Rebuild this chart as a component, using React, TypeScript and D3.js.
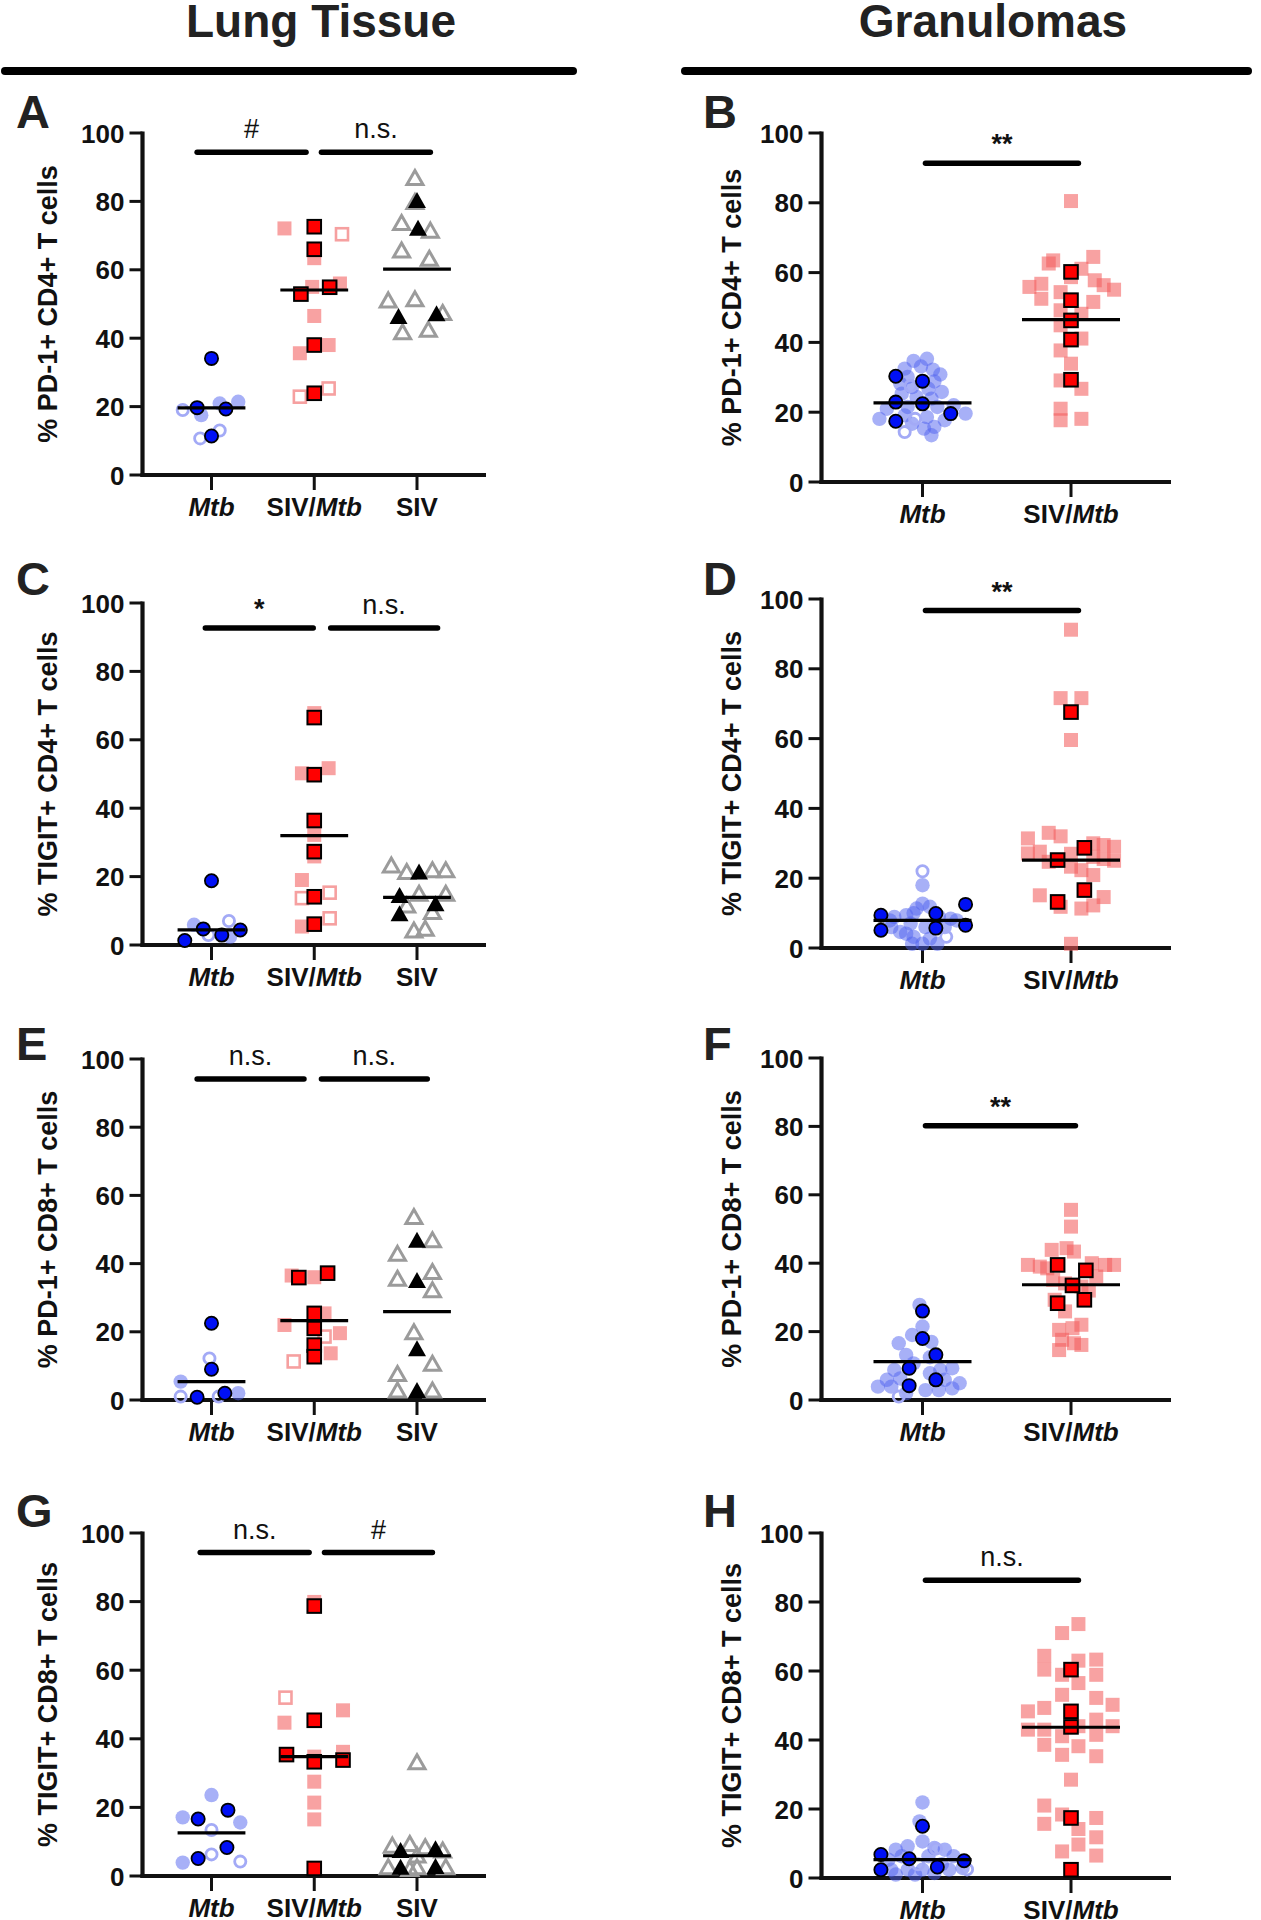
import React from "react";
import * as d3 from "d3";

type Pt = [number, number]; // [value %, jitter in % of category step]

const LUNG_CATS = ["Mtb", "SIV/Mtb", "SIV"];
const GRAN_CATS = ["Mtb", "SIV/Mtb"];
const Y_TICKS = [0, 20, 40, 60, 80, 100];
const HEADERS = ["Lung Tissue", "Granulomas"];

// ---------- Panel A : PD-1+ CD4+ lung ----------
const A_mtbDark: Pt[] = [[34.1, 0], [19.7, -14], [19.3, 14], [11.4, 0]];
const A_mtbLight: Pt[] = [[21.4, 26], [17.5, -10], [20.9, 8]];
const A_mtbOpen: Pt[] = [[19, -28], [13, 8], [10.7, -11]];
const A_cmDark: Pt[] = [[72.6, 0], [66, 0], [52.9, -13], [54.9, 15], [38, 0], [23.9, 0]];
const A_cmPink: Pt[] = [[72.1, -29], [63.4, 0], [56, 25], [55, -2], [46.5, 0], [38, 14], [35.6, -14]];
const A_cmOpen: Pt[] = [[70.4, 27], [25.3, 14], [22.9, -14]];
const A_sivBlack: Pt[] = [[80.4, 0], [72.3, 1], [46.5, -18], [47.3, 19]];
const A_sivGray: Pt[] = [[87, -2], [80, -2], [73.8, -15], [71.6, 13], [65.8, -15], [63.4, 12], [51.2, -28], [51.5, -2], [47.5, 25], [41.9, -14], [42.6, 11]];
const A_means = [19.6, 54.1, 60.2];

// ---------- Panel B : PD-1+ CD4+ granulomas ----------
const B_mtbDark: Pt[] = [[30.3, -18], [28.9, 0], [22.9, -18], [22.4, 0], [19.6, 19], [17.4, -18]];
const B_mtbLight: Pt[] = [[35.3, 3], [34.7, -6], [32.5, -12], [33.1, -1], [32.2, 7], [30.8, 12], [30.1, -10], [28.8, 8], [28.2, -15], [27.2, -7], [26.7, 4], [25.8, 13], [25.3, -14], [24.4, -4], [23.9, 6], [21, -24], [21.5, -10], [21.5, 10], [22, 21], [19.6, 29], [18.1, -29], [19.1, -12], [18.6, 3], [17.7, 15], [16.7, -7], [15.8, 8], [15.3, 1], [13.4, 6]];
const B_mtbOpen: Pt[] = [[14.3, -12], [18.1, -5], [27.5, -8]];
const B_cmDark: Pt[] = [[60.2, 0], [52.1, 0], [46.3, 0], [40.8, 0], [29.3, 0]];
const B_cmPink: Pt[] = [[80.5, 0], [64.5, 15], [63.5, -12], [61.1, 7], [55.9, -28], [56.8, -20], [54.4, -7], [57.8, 16], [56.4, 22], [55.1, 29], [52.5, -20], [51.6, 15], [49.2, -7], [48.2, 7], [44.9, -7], [41.1, 7], [37.7, -7], [33.9, 0], [26.7, 7], [29.1, -7], [21, -7], [17.7, -7], [18.1, 7], [58.7, 0], [62.6, -15]];
const B_means = [22.7, 46.5];

// ---------- Panel C : TIGIT+ CD4+ lung ----------
const C_mtbDark: Pt[] = [[18.8, 0], [1.3, -26], [4.7, -8], [2.9, 10], [4.4, 28]];
const C_mtbLight: Pt[] = [[5.9, -17], [2.4, 18]];
const C_mtbOpen: Pt[] = [[7, 17], [2.9, -3]];
const C_cmDark: Pt[] = [[66.5, 0], [49.8, 0], [36.4, 0], [27.3, 0], [14.1, 0], [6.1, 0]];
const C_cmPink: Pt[] = [[67.8, 0], [50.2, -12], [51.7, 14], [32.2, 0], [25.9, 0], [19, -12], [5.4, -12]];
const C_cmOpen: Pt[] = [[13.7, -12], [15.3, 15], [7.8, 15]];
const C_sivBlack: Pt[] = [[21.5, 2], [14.6, -17], [12.2, 18], [9.3, -17]];
const C_sivGray: Pt[] = [[23.4, -25], [21.5, -10], [22, 15], [22, 28], [15.1, 2], [15.1, 28], [11.7, -10], [9.8, 15], [4.4, -3], [4.9, 8]];
const C_means = [4.4, 32, 13.9];

// ---------- Panel D : TIGIT+ CD4+ granulomas ----------
const D_mtbDark: Pt[] = [[9.4, -28], [5.1, -28], [9.9, 9], [5.7, 9], [12.5, 29], [6.5, 29]];
const D_mtbLight: Pt[] = [[18, 0], [12.7, 0], [11.3, -4], [11.8, 5], [9.4, -11], [8.9, -19], [8.4, 19], [6, -21], [4.6, -15], [7, -8], [6, 2], [6, 15], [3.2, -6], [2.7, 5], [1.2, 0], [1.2, -7], [1.2, 10], [7.9, 23], [7.9, -22], [4.1, -11], [10, -6], [9, 11]];
const D_mtbOpen: Pt[] = [[22, 0], [3.2, 16]];
const D_cmDark: Pt[] = [[67.6, 0], [28.7, 9], [25.2, -9], [16.6, 9], [13.2, -9]];
const D_cmPink: Pt[] = [[91.2, 0], [71.6, -7], [71.6, 7], [59.6, 0], [31.4, -29], [33, -15], [32, -7], [30, 15], [29.5, 22], [29, 29], [27.6, -21], [27.1, -29], [26.1, 15], [25.5, 22], [25, 29], [23.3, 0], [24.7, -15], [22.3, 7], [20.9, 15], [15.1, -21], [11.8, -7], [11.3, 7], [12.2, 15], [14.6, 22], [1.2, 0], [27, 0]];
const D_means = [7.9, 25.2];

// ---------- Panel E : PD-1+ CD8+ lung ----------
const E_mtbDark: Pt[] = [[22.5, 0], [9, 0], [0.8, -14], [2, 13]];
const E_mtbLight: Pt[] = [[5.4, -30], [2, 26]];
const E_mtbOpen: Pt[] = [[12.2, -2], [1, -30], [1, 7]];
const E_cmDark: Pt[] = [[35.9, -15], [37.2, 13], [25.4, 0], [21, 0], [16.1, 0], [12.7, 0]];
const E_cmPink: Pt[] = [[36, 0], [22, -29], [25.4, 10], [19.6, 25], [13.7, 16], [36.5, -22]];
const E_cmOpen: Pt[] = [[11.3, -20], [18.6, 10]];
const E_sivBlack: Pt[] = [[47, 0], [35.2, 0], [15.2, 0], [2.9, 0]];
const E_sivGray: Pt[] = [[53.8, -3], [47, 15], [43, -19], [35.7, -19], [37.7, 15], [32.3, 15], [20, -3], [10.8, 15], [7.8, -19], [2.9, -19], [2.9, 15]];
const E_means = [5.4, 23.3, 25.9];

// ---------- Panel F : PD-1+ CD8+ granulomas ----------
const F_mtbDark: Pt[] = [[26, 0], [18, 0], [13.2, 9], [9.3, -9], [5.9, 9], [4.2, -9]];
const F_mtbLight: Pt[] = [[27.8, -2], [21.5, 0], [19, -7], [17, 6], [16.6, -16], [13.2, -11], [12.5, 5], [8.8, -19], [10.7, -6], [8.8, 12], [9.3, 20], [5.9, -24], [6.3, -15], [7.8, 5], [5.9, 15], [4.9, 25], [3.9, -30], [3.9, -21], [2.9, 2], [2.9, 11], [3.4, 20], [2, -11]];
const F_mtbOpen: Pt[] = [[1, -16]];
const F_cmDark: Pt[] = [[39.5, -9], [37.9, 10], [33.5, 1], [28.3, -9], [29.3, 9]];
const F_cmPink: Pt[] = [[55.6, 0], [50.7, 0], [43.9, -13], [44.4, -3], [43.4, 2], [39.5, -29], [39, -21], [38.5, -16], [40, 14], [39.5, 23], [39.5, 29], [36.1, 17], [35.1, -12], [34.1, -4], [33.2, 7], [32, 12], [29.3, -11], [25.9, -4], [20.5, -8], [22, 7], [21, 1], [17.6, -6], [16.6, 2], [14.6, -8], [16.1, 7]];
const F_means = [11.2, 33.7];

// ---------- Panel G : TIGIT+ CD8+ lung ----------
const G_mtbDark: Pt[] = [[19.2, 16], [16.6, -13], [8.3, 15], [5.1, -13]];
const G_mtbLight: Pt[] = [[23.6, 0], [17.1, -28], [15.6, 28], [3.9, -28]];
const G_mtbOpen: Pt[] = [[13.4, 0], [6.3, 0], [4.2, 28]];
const G_cmDark: Pt[] = [[78.7, 0], [45.4, 0], [35.4, -27], [33.3, 0], [33.8, 28], [2.2, 0]];
const G_cmPink: Pt[] = [[79.9, 0], [44.7, -29], [48.3, 28], [34.8, 0], [36.2, 28], [27.5, 0], [21.4, 0], [16.5, 0]];
const G_cmOpen: Pt[] = [[52, -28]];
const G_sivBlack: Pt[] = [[7.6, -16], [8.1, 18], [2.7, -16], [2.9, 18]];
const G_sivGray: Pt[] = [[33.3, 0], [9, -24], [9.5, -7], [8.5, 8], [7.6, 25], [6.1, 0], [2.7, -28], [2.7, 0], [2.7, 28], [2.2, -7]];
const G_means = [12.6, 34.8, 5.9];

// ---------- Panel H : TIGIT+ CD8+ granulomas ----------
const H_mtbDark: Pt[] = [[15, 0], [6.8, -28], [2.4, -28], [5.6, -9], [3.2, 10], [5, 28]];
const H_mtbLight: Pt[] = [[21.9, 0], [16.4, -2], [10.6, 0], [9.2, -10], [8.7, 8], [8.2, -18], [8.2, 15], [5.3, -23], [6.3, -14], [6.3, 4], [6.3, 21], [2.4, -21], [2.4, -10], [2.4, 0], [2.4, 18], [2.9, 27], [1.4, 8], [1, -18], [1, -5], [4, 13]];
const H_mtbOpen: Pt[] = [[8.5, 9], [2.5, 30], [4, -3]];
const H_cmDark: Pt[] = [[60.4, 0], [48.3, 0], [43.8, 0], [17.4, 0], [2.4, 0]];
const H_cmPink: Pt[] = [[73.6, 5], [71, -6], [64.4, -18], [63, 5], [63.3, 17], [60.4, -18], [58.9, -6], [58.9, 17], [56.5, 5], [53.1, -6], [52.2, 17], [48.3, -29], [49.3, -18], [50.2, 28], [44, 5], [43, -29], [43, -18], [41.1, -6], [45.9, 17], [41.5, 17], [44, 28], [38.6, -18], [38.2, 5], [35.7, -6], [35.3, 17], [28.5, 0], [21, -18], [18.4, -6], [15.7, -18], [17.4, 17], [14.2, 5], [11.8, 17], [9.7, 5], [7.7, -6], [6.5, 17]];
const H_means = [5.3, 43.7];

type Kind = "cl" | "co" | "cd" | "sp" | "so" | "sd" | "tg" | "tb";
type Series = [number, Kind, Pt[]];
type Sig = { a: number; b: number; v: number; t: string };

interface PanelCfg {
  id: string;
  col: number;
  ylabel: string;
  cats: string[];
  y0: number;
  y100: number;
  letterY: number;
  series: Series[];
  means: number[];
  sig: Sig[];
}

const lungSeries = (ml: Pt[], mo: Pt[], md: Pt[], cp: Pt[], co: Pt[], cd: Pt[], sg: Pt[], sb: Pt[]): Series[] => [
  [0, "cl", ml], [0, "co", mo], [0, "cd", md],
  [1, "sp", cp], [1, "so", co], [1, "sd", cd],
  [2, "tg", sg], [2, "tb", sb],
];
const granSeries = (ml: Pt[], mo: Pt[], md: Pt[], cp: Pt[], cd: Pt[]): Series[] => [
  [0, "cl", ml], [0, "co", mo], [0, "cd", md],
  [1, "sp", cp], [1, "sd", cd],
];

const PANELS: PanelCfg[] = [
  { id: "A", col: 0, ylabel: "% PD-1+ CD4+ T cells", cats: LUNG_CATS, y0: 475, y100: 133, letterY: 128,
    series: lungSeries(A_mtbLight, A_mtbOpen, A_mtbDark, A_cmPink, A_cmOpen, A_cmDark, A_sivGray, A_sivBlack),
    means: A_means, sig: [{ a: -0.14, b: 0.92, v: 94.4, t: "#" }, { a: 1.07, b: 2.13, v: 94.4, t: "n.s." }] },
  { id: "B", col: 1, ylabel: "% PD-1+ CD4+ T cells", cats: GRAN_CATS, y0: 482, y100: 133, letterY: 128,
    series: granSeries(B_mtbLight, B_mtbOpen, B_mtbDark, B_cmPink, B_cmDark),
    means: B_means, sig: [{ a: 0.02, b: 1.05, v: 91.3, t: "**" }] },
  { id: "C", col: 0, ylabel: "% TIGIT+ CD4+ T cells", cats: LUNG_CATS, y0: 945, y100: 603, letterY: 595,
    series: lungSeries(C_mtbLight, C_mtbOpen, C_mtbDark, C_cmPink, C_cmOpen, C_cmDark, C_sivGray, C_sivBlack),
    means: C_means, sig: [{ a: -0.06, b: 0.99, v: 92.7, t: "*" }, { a: 1.16, b: 2.2, v: 92.7, t: "n.s." }] },
  { id: "D", col: 1, ylabel: "% TIGIT+ CD4+ T cells", cats: GRAN_CATS, y0: 948, y100: 599, letterY: 595,
    series: granSeries(D_mtbLight, D_mtbOpen, D_mtbDark, D_cmPink, D_cmDark),
    means: D_means, sig: [{ a: 0.02, b: 1.05, v: 96.7, t: "**" }] },
  { id: "E", col: 0, ylabel: "% PD-1+ CD8+ T cells", cats: LUNG_CATS, y0: 1400, y100: 1059, letterY: 1060,
    series: lungSeries(E_mtbLight, E_mtbOpen, E_mtbDark, E_cmPink, E_cmOpen, E_cmDark, E_sivGray, E_sivBlack),
    means: E_means, sig: [{ a: -0.14, b: 0.9, v: 94.1, t: "n.s." }, { a: 1.07, b: 2.1, v: 94.1, t: "n.s." }] },
  { id: "F", col: 1, ylabel: "% PD-1+ CD8+ T cells", cats: GRAN_CATS, y0: 1400, y100: 1058, letterY: 1060,
    series: granSeries(F_mtbLight, F_mtbOpen, F_mtbDark, F_cmPink, F_cmDark),
    means: F_means, sig: [{ a: 0.02, b: 1.03, v: 80.2, t: "**" }] },
  { id: "G", col: 0, ylabel: "% TIGIT+ CD8+ T cells", cats: LUNG_CATS, y0: 1876, y100: 1533, letterY: 1527,
    series: lungSeries(G_mtbLight, G_mtbOpen, G_mtbDark, G_cmPink, G_cmOpen, G_cmDark, G_sivGray, G_sivBlack),
    means: G_means, sig: [{ a: -0.11, b: 0.95, v: 94.3, t: "n.s." }, { a: 1.1, b: 2.15, v: 94.3, t: "#" }] },
  { id: "H", col: 1, ylabel: "% TIGIT+ CD8+ T cells", cats: GRAN_CATS, y0: 1878, y100: 1533, letterY: 1527,
    series: granSeries(H_mtbLight, H_mtbOpen, H_mtbDark, H_cmPink, H_cmDark),
    means: H_means, sig: [{ a: 0.02, b: 1.05, v: 86.3, t: "n.s." }] },
];

const COLS = [
  { axisX: 142.5, catRange: [211.5, 417] as [number, number], xEnd: 486, ylabelX: 57, letterX: 16 },
  { axisX: 821.5, catRange: [922.5, 1071] as [number, number], xEnd: 1171, ylabelX: 741, letterX: 703 },
];

const FONT = "'Liberation Sans', Arial, Helvetica, sans-serif";
const INK = "#111";

function Mark({ kind, x, y }: { kind: Kind; x: number; y: number }) {
  switch (kind) {
    case "cd":
      return <circle cx={x} cy={y} r={6.6} fill="#0010f5" stroke="#000" strokeWidth={1.8} />;
    case "cl":
      return <circle cx={x} cy={y} r={7.2} fill="#5062f0" fillOpacity={0.5} />;
    case "co":
      return <circle cx={x} cy={y} r={5.6} fill="none" stroke="#a3aaf6" strokeWidth={2.8} />;
    case "sd":
      return <rect x={x - 6.8} y={y - 6.8} width={13.6} height={13.6} fill="#ff0000" stroke="#000" strokeWidth={2} />;
    case "sp":
      return <rect x={x - 7} y={y - 7} width={14} height={14} fill="#f25c5c" fillOpacity={0.57} />;
    case "so":
      return <rect x={x - 6} y={y - 6} width={12} height={12} fill="none" stroke="#f6a0a0" strokeWidth={2.6} />;
    case "tb": {
      const w = 18, h = 16;
      return <path d={`M${x},${y - h / 2}L${x + w / 2},${y + h / 2}L${x - w / 2},${y + h / 2}Z`} fill="#000" />;
    }
    case "tg": {
      const w = 16, h = 14;
      return <path d={`M${x},${y - h / 2}L${x + w / 2},${y + h / 2}L${x - w / 2},${y + h / 2}Z`} fill="none" stroke="#9b9b9b" strokeWidth={3} strokeLinejoin="miter" />;
    }
  }
  return null;
}

function CatLabel({ cat, x, y }: { cat: string; x: number; y: number }) {
  const style = { fontFamily: FONT, fontWeight: 700, fontSize: 26, fill: INK } as const;
  if (cat === "Mtb")
    return <text x={x} y={y} textAnchor="middle" style={style} fontStyle="italic">Mtb</text>;
  if (cat === "SIV/Mtb")
    return (
      <text x={x} y={y} textAnchor="middle" style={style}>
        <tspan>SIV/</tspan>
        <tspan fontStyle="italic">Mtb</tspan>
      </text>
    );
  return <text x={x} y={y} textAnchor="middle" style={style}>{cat}</text>;
}

function Panel({ cfg }: { cfg: PanelCfg }) {
  const col = COLS[cfg.col];
  const y = d3.scaleLinear().domain([0, 100]).range([cfg.y0, cfg.y100]);
  const x = d3.scalePoint<string>().domain(cfg.cats).range(col.catRange);
  const step = x.step();
  const idx = d3.scaleLinear().domain([0, cfg.cats.length - 1]).range(col.catRange);
  const meanHalf = step * 0.33;

  return (
    <g>
      <text x={col.letterX} y={cfg.letterY} style={{ fontFamily: FONT, fontWeight: 700, fontSize: 47, fill: "#222" }}>
        {cfg.id}
      </text>
      <text
        transform={`translate(${col.ylabelX},${(cfg.y0 + cfg.y100) / 2}) rotate(-90)`}
        textAnchor="middle"
        style={{ fontFamily: FONT, fontWeight: 700, fontSize: 27, fill: INK }}
      >
        {cfg.ylabel}
      </text>
      {Y_TICKS.map((t) => (
        <g key={t}>
          <line x1={col.axisX - 13} x2={col.axisX} y1={y(t)} y2={y(t)} stroke={INK} strokeWidth={3} />
          <text x={col.axisX - 18} y={y(t) + 9.5} textAnchor="end" style={{ fontFamily: FONT, fontWeight: 700, fontSize: 26, fill: INK }}>
            {t}
          </text>
        </g>
      ))}
      {cfg.cats.map((c) => (
        <g key={c}>
          <line x1={x(c)!} x2={x(c)!} y1={cfg.y0} y2={cfg.y0 + 15} stroke={INK} strokeWidth={3} />
          <CatLabel cat={c} x={x(c)!} y={cfg.y0 + 41} />
        </g>
      ))}
      <line x1={col.axisX} x2={col.axisX} y1={cfg.y100 - 1.5} y2={cfg.y0 + 2} stroke={INK} strokeWidth={4.2} />
      <line x1={col.axisX - 2} x2={col.xEnd} y1={cfg.y0} y2={cfg.y0} stroke={INK} strokeWidth={4} />
      {cfg.series.map(([ci, kind, pts], si) => (
        <g key={si}>
          {pts.map(([v, j], k) => (
            <Mark key={k} kind={kind} x={x(cfg.cats[ci])! + (j / 100) * step} y={y(v)} />
          ))}
        </g>
      ))}
      {cfg.means.map((m, i) => (
        <line key={i} x1={x(cfg.cats[i])! - meanHalf} x2={x(cfg.cats[i])! + meanHalf} y1={y(m)} y2={y(m)} stroke="#000" strokeWidth={3.2} />
      ))}
      {cfg.sig.map((s, i) => {
        const x1 = idx(s.a), x2 = idx(s.b), yy = y(s.v);
        const star = s.t.includes("*");
        return (
          <g key={i}>
            <line x1={x1} x2={x2} y1={yy} y2={yy} stroke="#000" strokeWidth={5.5} strokeLinecap="round" />
            <text
              x={(x1 + x2) / 2}
              y={yy - (star ? 10 : 14)}
              textAnchor="middle"
              style={{ fontFamily: FONT, fontWeight: star ? 700 : 400, fontSize: 27, fill: INK }}
            >
              {s.t}
            </text>
          </g>
        );
      })}
    </g>
  );
}

export default function App() {
  return (
    <svg
      width={1261}
      height={1920}
      viewBox="0 0 1261 1920"
      style={{ position: "absolute", left: 0, top: 0, background: "#fff" }}
    >
      <rect x={0} y={0} width={1261} height={1920} fill="#fff" />
      <text x={321} y={37} textAnchor="middle" style={{ fontFamily: FONT, fontWeight: 700, fontSize: 46, fill: "#222" }}>
        {HEADERS[0]}
      </text>
      <text x={993} y={37} textAnchor="middle" style={{ fontFamily: FONT, fontWeight: 700, fontSize: 46, fill: "#222" }}>
        {HEADERS[1]}
      </text>
      <line x1={5} x2={573} y1={71} y2={71} stroke="#000" strokeWidth={8} strokeLinecap="round" />
      <line x1={685} x2={1248} y1={71} y2={71} stroke="#000" strokeWidth={8} strokeLinecap="round" />
      {PANELS.map((p) => (
        <Panel key={p.id} cfg={p} />
      ))}
    </svg>
  );
}
